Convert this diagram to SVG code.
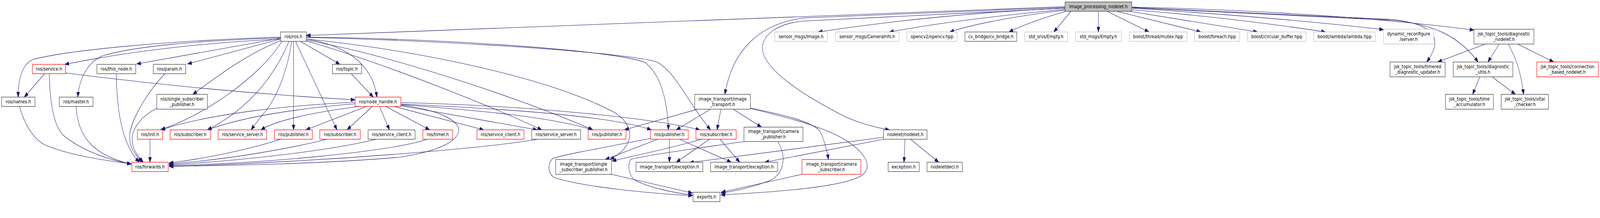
<svg xmlns="http://www.w3.org/2000/svg" width="4938" height="559" viewBox="0 0 4938 559" preserveAspectRatio="none">
<style>
@media (max-width: 4930px) { svg { width: 100vw; height: 100vh; } }
rect{stroke-width:1.3}
.n{fill:#fff;stroke:#404040}
.g{fill:#fff;stroke:#bfbfbf}
.r{fill:#fff;stroke:#ff0000}
.root{fill:#bfbfbf;stroke:#404040}
text{font-family:"DejaVu Sans","Liberation Sans",sans-serif;font-size:12.7px;text-anchor:middle;fill:#000}
.e path{fill:none;stroke:#191970;stroke-width:1.1;marker-end:url(#a)}
</style>
<defs>
<marker id="a" markerWidth="14" markerHeight="10" refX="13" refY="5" orient="auto" markerUnits="userSpaceOnUse"><path d="M0,0.3 L13,5 L0,9.7 z" fill="#191970" stroke="#191970" stroke-width="1"/></marker>
</defs>
<rect width="4938" height="559" fill="#fff"/>
<g class="e" id="edges">
<path d="M3287,17 Q2300,50 945,91"/>
<path d="M3287,19 L2480,46 C2340,62 2260,130 2237,242"/>
<path d="M3287,21 L2480,54 C2400,60 2350,90 2353,127 C2360,180 2480,245 2610,300 C2660,318 2710,328 2745,333"/>
<path d="M3287,21 Q2900,35 2525,82"/>
<path d="M3287,24 Q2950,50 2745,82"/>
<path d="M3287,26 Q3050,50 2931,82"/>
<path d="M3290,29 Q3180,55 3114,82"/>
<path d="M3305,29 Q3280,55 3252,82"/>
<path d="M3390,29 L3390,82"/>
<path d="M3417,29 L3546,82"/>
<path d="M3446,29 L3706,82"/>
<path d="M3486,29 L3881,82"/>
<path d="M3493,25 Q3800,45 4091,82"/>
<path d="M3493,21 Q3950,45 4270,76"/>
<path d="M3493,18 Q4100,30 4549,77"/>
<path d="M3493,19 L4300,50 C4420,62 4460,95 4403,159"/>
<path d="M3493,20 L4300,52 C4420,62 4500,90 4562,159"/>
<path d="M866,100 Q500,115 200,165"/>
<path d="M866,95 C500,105 200,130 100,153 C70,165 56,200 56,249"/>
<path d="M866,97 C600,105 420,118 317,143 C270,160 245,200 240,249"/>
<path d="M866,98 L422,164"/>
<path d="M866,100 L579,164"/>
<path d="M866,104 C760,140 680,190 595,242"/>
<path d="M870,106 C800,200 620,300 495,333"/>
<path d="M892,106 C860,170 790,270 640,333"/>
<path d="M900,106 C890,170 860,240 824,280 C810,295 790,315 775,333"/>
<path d="M906,106 L906,333"/>
<path d="M912,106 L1040,333"/>
<path d="M927,106 L1049,165"/>
<path d="M945,100 C1060,115 1150,160 1163,249"/>
<path d="M945,95 C1400,100 1900,130 1990,160 C2040,190 2060,260 2063,333"/>
<path d="M945,96 C1400,105 1950,135 2030,160 C2090,190 2120,260 2193,333"/>
<path d="M945,100 C1300,130 1700,200 1900,290 C1970,330 1950,380 1883,409"/>
<path d="M945,103 C1200,140 1600,250 1830,333"/>
<path d="M945,105 C1200,165 1550,285 1672,333"/>
<path d="M1096,262 C900,270 650,290 497,333"/>
<path d="M1096,266 C900,280 750,300 640,333"/>
<path d="M1108,273 C950,290 850,310 805,333"/>
<path d="M1131,273 L944,333"/>
<path d="M1149,273 L1071,333"/>
<path d="M1171,273 L1202,333"/>
<path d="M1191,273 L1326,333"/>
<path d="M1216,273 L1493,333"/>
<path d="M1237,271 L1658,333"/>
<path d="M1237,268 C1500,285 1700,300 1828,333"/>
<path d="M1237,267 C1600,280 1900,300 2010,333"/>
<path d="M1237,263 C1600,270 2000,300 2160,333"/>
<path d="M1237,270 C1350,280 1420,310 1416,335 C1410,370 1330,390 1236,403 C1000,420 700,425 522,426"/>
<path d="M867,357 C780,380 650,405 522,418"/>
<path d="M1009,357 C900,380 700,410 522,420"/>
<path d="M1161,357 C1000,390 700,415 522,422"/>
<path d="M1319,357 C1200,390 800,420 522,424"/>
<path d="M1660,357 C1500,380 1000,415 522,427"/>
<path d="M463,357 L463,416"/>
<path d="M60,273 C80,330 110,360 140,372 C220,400 330,412 405,420"/>
<path d="M152,189 C155,280 170,330 200,350 C260,390 340,410 405,421"/>
<path d="M235,273 C240,360 300,400 405,421"/>
<path d="M359,189 C360,280 375,370 430,416"/>
<path d="M509,189 C440,250 400,320 400,350 C400,380 420,400 438,416"/>
<path d="M484,278 C440,295 405,330 408,360 C410,385 425,400 442,416"/>
<path d="M1084,189 L1152,249"/>
<path d="M138,189 L75,249"/>
<path d="M202,187 Q650,235 1096,256"/>
<path d="M2193,280 L2087,333"/>
<path d="M2225,280 L2213,333"/>
<path d="M2263,280 L2350,326"/>
<path d="M2153,280 L1927,333"/>
<path d="M2316,277 C2420,295 2500,310 2530,335 C2545,360 2553,390 2557,409"/>
<path d="M2316,278 C2450,305 2560,330 2620,365 C2680,400 2690,430 2660,450 C2600,480 2400,492 2225,500"/>
<path d="M2066,357 L2066,416"/>
<path d="M2097,357 L2257,416"/>
<path d="M2030,357 L1868,409"/>
<path d="M2008,355 C1850,380 1720,400 1705,407 C1690,420 1690,445 1710,455 C1800,480 2000,495 2137,502"/>
<path d="M2190,357 L2087,416"/>
<path d="M2222,357 L2283,416"/>
<path d="M2165,357 C2050,385 1950,400 1889,413"/>
<path d="M2296,363 C2200,375 2050,390 1948,408 C1935,420 1940,450 1960,462 C2000,480 2080,495 2137,500"/>
<path d="M2400,363 C2430,400 2420,450 2370,465 C2320,480 2270,490 2225,495"/>
<path d="M2475,447 L2226,493"/>
<path d="M1887,447 L2137,495"/>
<path d="M2793,357 L2790,416"/>
<path d="M2810,357 L2897,416"/>
<path d="M2727,352 L2128,417"/>
<path d="M2727,357 L2360,416"/>
<path d="M4584,113 L4437,159"/>
<path d="M4627,113 L4592,159"/>
<path d="M4655,113 C4680,150 4695,190 4702,242"/>
<path d="M4684,113 L4795,159"/>
<path d="M4567,197 L4545,242"/>
<path d="M4605,197 L4677,242"/>
</g>
<g id="n_root"><rect class="root" x="3287" y="5" width="206" height="24"/><text x="3390" y="21.5">image_processing_nodelet.h</text></g>
<g id="n_ros"><rect class="n" x="866" y="82" width="79" height="24"/><text x="905.5" y="98.5">ros/ros.h</text></g>
<g id="n_image"><rect class="g" x="2391" y="82" width="163" height="24"/><text x="2472.5" y="98.5">sensor_msgs/Image.h</text></g>
<g id="n_caminfo"><rect class="g" x="2578" y="82" width="197" height="24"/><text x="2676.5" y="98.5">sensor_msgs/CameraInfo.h</text></g>
<g id="n_opencv"><rect class="g" x="2799" y="82" width="155" height="24"/><text x="2876.5" y="98.5">opencv2/opencv.hpp</text></g>
<g id="n_cvbridge"><rect class="n" x="2978" y="82" width="160" height="24"/><text x="3058" y="98.5">cv_bridge/cv_bridge.h</text></g>
<g id="n_stdsrvs"><rect class="g" x="3162" y="82" width="133" height="24"/><text x="3228.5" y="98.5">std_srvs/Empty.h</text></g>
<g id="n_stdmsgs"><rect class="g" x="3319" y="82" width="142" height="24"/><text x="3390" y="98.5">std_msgs/Empty.h</text></g>
<g id="n_mutex"><rect class="g" x="3485" y="82" width="178" height="24"/><text x="3574" y="98.5">boost/thread/mutex.hpp</text></g>
<g id="n_foreach"><rect class="g" x="3687" y="82" width="139" height="24"/><text x="3756.5" y="98.5">boost/foreach.hpp</text></g>
<g id="n_circbuf"><rect class="g" x="3850" y="82" width="181" height="24"/><text x="3940.5" y="98.5">boost/circular_buffer.hpp</text></g>
<g id="n_lambda"><rect class="g" x="4054" y="82" width="191" height="24"/><text x="4149.5" y="98.5">boost/lambda/lambda.hpp</text></g>
<g id="n_dynrec"><rect class="g" x="4270" y="75" width="155" height="38"/><text x="4347.5" y="91.5">dynamic_reconfigure<tspan x="4347.5" y="105.5">/server.h</tspan></text></g>
<g id="n_diagnode"><rect class="n" x="4549" y="75" width="185" height="38"/><text x="4641.5" y="91.5">jsk_topic_tools/diagnostic<tspan x="4641.5" y="105.5">_nodelet.h</tspan></text></g>
<g id="n_service"><rect class="r" x="100" y="165" width="102" height="24"/><text x="151" y="181.5">ros/service.h</text></g>
<g id="n_thisnode"><rect class="n" x="299" y="165" width="120" height="24"/><text x="359" y="181.5">ros/this_node.h</text></g>
<g id="n_param"><rect class="n" x="473" y="165" width="100" height="24"/><text x="523" y="181.5">ros/param.h</text></g>
<g id="n_topic"><rect class="n" x="1026" y="165" width="90" height="24"/><text x="1071" y="181.5">ros/topic.h</text></g>
<g id="n_timered"><rect class="n" x="4290" y="159" width="170" height="38"/><text x="4375" y="175.5">jsk_topic_tools/timered<tspan x="4375" y="189.5">_diagnostic_updater.h</tspan></text></g>
<g id="n_diagutils"><rect class="n" x="4485" y="159" width="184" height="38"/><text x="4577" y="175.5">jsk_topic_tools/diagnostic<tspan x="4577" y="189.5">_utils.h</tspan></text></g>
<g id="n_connbased"><rect class="r" x="4743" y="159" width="190" height="38"/><text x="4838" y="175.5">jsk_topic_tools/connection<tspan x="4838" y="189.5">_based_nodelet.h</tspan></text></g>
<g id="n_names"><rect class="n" x="5" y="249" width="103" height="24"/><text x="56.5" y="265.5">ros/names.h</text></g>
<g id="n_master"><rect class="n" x="183" y="249" width="104" height="24"/><text x="235" y="265.5">ros/master.h</text></g>
<g id="n_nodehandle"><rect class="r" x="1096" y="249" width="141" height="24"/><text x="1166.5" y="265.5">ros/node_handle.h</text></g>
<g id="n_ssp"><rect class="n" x="484" y="242" width="156" height="38"/><text x="562" y="258.5">ros/single_subscriber<tspan x="562" y="272.5">_publisher.h</tspan></text></g>
<g id="n_it"><rect class="n" x="2144" y="242" width="172" height="38"/><text x="2230" y="258.5">image_transport/image<tspan x="2230" y="272.5">_transport.h</tspan></text></g>
<g id="n_timeacc"><rect class="n" x="4461" y="242" width="148" height="38"/><text x="4535" y="258.5">jsk_topic_tools/time<tspan x="4535" y="272.5">_accumulator.h</tspan></text></g>
<g id="n_vital"><rect class="n" x="4633" y="242" width="146" height="38"/><text x="4706" y="258.5">jsk_topic_tools/vital<tspan x="4706" y="272.5">_checker.h</tspan></text></g>
<g id="n_init"><rect class="r" x="424" y="333" width="78" height="24"/><text x="463" y="349.5">ros/init.h</text></g>
<g id="n_sub1"><rect class="r" x="525" y="333" width="124" height="24"/><text x="587" y="349.5">ros/subscriber.h</text></g>
<g id="n_ss1"><rect class="r" x="673" y="333" width="150" height="24"/><text x="748" y="349.5">ros/service_server.h</text></g>
<g id="n_pub1"><rect class="r" x="847" y="333" width="117" height="24"/><text x="905.5" y="349.5">ros/publisher.h</text></g>
<g id="n_sub2"><rect class="r" x="987" y="333" width="125" height="24"/><text x="1049.5" y="349.5">ros/subscriber.h</text></g>
<g id="n_sc1"><rect class="n" x="1136" y="333" width="145" height="24"/><text x="1208.5" y="349.5">ros/service_client.h</text></g>
<g id="n_timer"><rect class="r" x="1305" y="333" width="92" height="24"/><text x="1351" y="349.5">ros/timer.h</text></g>
<g id="n_sc2"><rect class="r" x="1472" y="333" width="145" height="24"/><text x="1544.5" y="349.5">ros/service_client.h</text></g>
<g id="n_ss2"><rect class="n" x="1641" y="333" width="151" height="24"/><text x="1716.5" y="349.5">ros/service_server.h</text></g>
<g id="n_pub3"><rect class="r" x="1815" y="333" width="117" height="24"/><text x="1873.5" y="349.5">ros/publisher.h</text></g>
<g id="n_pub2"><rect class="r" x="2008" y="333" width="116" height="24"/><text x="2066" y="349.5">ros/publisher.h</text></g>
<g id="n_sub3"><rect class="r" x="2148" y="333" width="124" height="24"/><text x="2210" y="349.5">ros/subscriber.h</text></g>
<g id="n_nodelet"><rect class="n" x="2727" y="333" width="134" height="24"/><text x="2794" y="349.5">nodelet/nodelet.h</text></g>
<g id="n_campub"><rect class="n" x="2296" y="326" width="182" height="37"/><text x="2387" y="341.5">image_transport/camera<tspan x="2387" y="355">_publisher.h</tspan></text></g>
<g id="n_forwards"><rect class="r" x="407" y="416" width="112" height="24"/><text x="463" y="432.5">ros/forwards.h</text></g>
<g id="n_ite1"><rect class="n" x="1963" y="416" width="206" height="24"/><text x="2066" y="432.5">image_transport/exception.h</text></g>
<g id="n_ite2"><rect class="n" x="2193" y="416" width="207" height="24"/><text x="2296.5" y="432.5">image_transport/exception.h</text></g>
<g id="n_exception"><rect class="n" x="2741" y="416" width="96" height="24"/><text x="2789" y="432.5">exception.h</text></g>
<g id="n_nodeletdecl"><rect class="n" x="2861" y="416" width="109" height="24"/><text x="2915.5" y="432.5">nodeletdecl.h</text></g>
<g id="n_itssp"><rect class="n" x="1715" y="409" width="172" height="38"/><text x="1801" y="425.5">image_transport/single<tspan x="1801" y="439.5">_subscriber_publisher.h</tspan></text></g>
<g id="n_camsub"><rect class="r" x="2475" y="409" width="182" height="38"/><text x="2566" y="425.5">image_transport/camera<tspan x="2566" y="439.5">_subscriber.h</tspan></text></g>
<g id="n_exports"><rect class="n" x="2139" y="493" width="83" height="24"/><text x="2180.5" y="509.5">exports.h</text></g>
</svg>
